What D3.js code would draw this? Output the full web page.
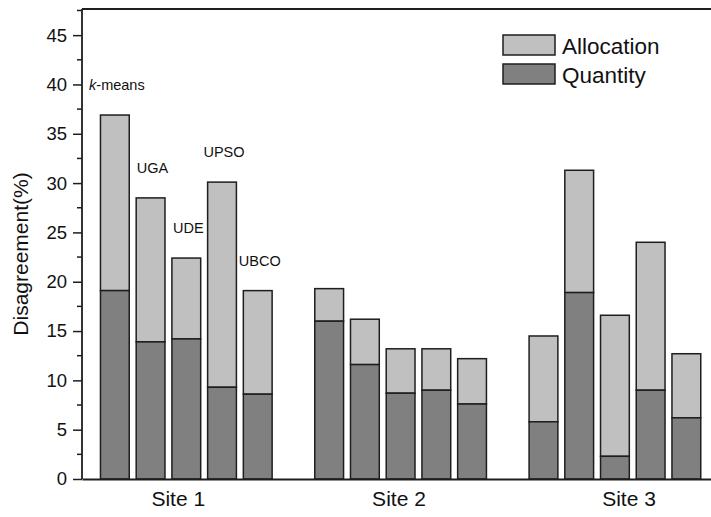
<!DOCTYPE html>
<html lang="en">
<head>
    <meta charset="UTF-8">
    <script src="https://d3js.org/d3.v7.min.js"></script>
    <title>Disagreement by site</title>
    <style>
        body { margin: 0; background: #fff; }
        svg text { font-family: "Liberation Sans", Arial, sans-serif; fill: #111; }
    </style>
</head>
<body>
    <div id="chart"></div>
    <script>
        // ---------- data ----------
        const sites = ["Site 1", "Site 2", "Site 3"];
        const methods = ["k-means", "UGA", "UDE", "UPSO", "UBCO"];
        // quantity disagreement (%) per site, one value per method
        const quantity = [
            [19.1, 13.9, 14.2, 9.3, 8.6],
            [16.0, 11.6, 8.7, 9.0, 7.6],
            [5.8, 18.9, 2.3, 9.0, 6.2]
        ];
        // allocation disagreement (%) stacked on top
        const allocation = [
            [17.8, 14.6, 8.2, 20.8, 10.5],
            [3.3, 4.6, 4.5, 4.2, 4.6],
            [8.7, 12.4, 14.3, 15.0, 6.5]
        ];
        const yTicks = [0, 5, 10, 15, 20, 25, 30, 35, 40, 45];
        const siteTicks = [1.76, 7.94, 14.38]; // where Site labels sit, in bar slots

        // ---------- layout ----------
        const width = 711, height = 517;
        const margin = { left: 82, right: 0, top: 9, bottom: 38 };

        const svg = d3.select("#chart").append("svg")
            .attr("width", width)
            .attr("height", height);

        const x = d3.scaleLinear()
            .domain([-0.92, 16.69])
            .range([margin.left, width - margin.right]);

        const y = d3.scaleLinear()
            .domain([0, 47.65])
            .range([height - margin.bottom, margin.top]);

        const barW = (x(1) - x(0)) * 0.806;
        const colAlloc = "#c0c0c0", colQuant = "#808080", stroke = "#1e1e1e";

        // flatten into bar records
        const bars = [];
        sites.forEach((s, g) => {
            methods.forEach((m, i) => {
                bars.push({ site: s, method: m, slot: g * 6 + i, q: quantity[g][i], a: allocation[g][i] });
            });
        });

        // allocation (top part)
        svg.append("g").selectAll("rect")
            .data(bars)
            .enter()
            .append("rect")
            .attr("x", d => x(d.slot) - barW / 2)
            .attr("width", barW)
            .attr("y", d => y(d.q + d.a))
            .attr("height", d => y(d.q) - y(d.q + d.a))
            .attr("fill", colAlloc)
            .attr("stroke", stroke)
            .attr("stroke-width", 1.5);

        // quantity (bottom part)
        svg.append("g").selectAll("rect")
            .data(bars)
            .enter()
            .append("rect")
            .attr("x", d => x(d.slot) - barW / 2)
            .attr("width", barW)
            .attr("y", d => y(d.q))
            .attr("height", d => y(0) - y(d.q))
            .attr("fill", colQuant)
            .attr("stroke", stroke)
            .attr("stroke-width", 1.5);

        // method names above the Site 1 bars
        const labels = svg.append("g").selectAll("text")
            .data(bars.filter(d => d.site === sites[0]))
            .enter()
            .append("text")
            .attr("x", d => x(d.slot) + 2)
            .attr("y", d => y(d.q + d.a) - 25)
            .attr("text-anchor", "middle")
            .style("font-size", "14.5px");
        labels.each(function (d) {
            const t = d3.select(this);
            if (d.method.startsWith("k-")) {
                t.append("tspan").style("font-style", "italic").text("k");
                t.append("tspan").text(d.method.slice(1));
            } else {
                t.text(d.method);
            }
        });

        // y axis (major + minor ticks)
        const yAxis = svg.append("g")
            .attr("transform", `translate(${margin.left},0)`)
            .call(d3.axisLeft(y).tickValues(yTicks).tickSize(9).tickPadding(6));
        yAxis.select(".domain").remove();
        yAxis.selectAll("line").attr("stroke", stroke).attr("stroke-width", 1.5);
        yAxis.selectAll("text").style("font-size", "18.5px").attr("fill", "#111");

        const minor = d3.range(2.5, 48, 5);
        svg.append("g").selectAll("line")
            .data(minor)
            .enter()
            .append("line")
            .attr("x1", margin.left - 5)
            .attr("x2", margin.left)
            .attr("y1", d => y(d))
            .attr("y2", d => y(d))
            .attr("stroke", stroke)
            .attr("stroke-width", 1.5);

        // frame lines (left, top, bottom)
        svg.append("line")
            .attr("x1", margin.left).attr("x2", margin.left)
            .attr("y1", y.range()[0]).attr("y2", y.range()[1])
            .attr("stroke", stroke).attr("stroke-width", 1.8);
        svg.append("line")
            .attr("x1", margin.left).attr("x2", width)
            .attr("y1", y.range()[1]).attr("y2", y.range()[1])
            .attr("stroke", stroke).attr("stroke-width", 1.8);

        // x axis with site names
        const xAxis = svg.append("g")
            .attr("transform", `translate(0,${y(0)})`)
            .call(d3.axisBottom(x).tickValues(siteTicks).tickSize(0).tickPadding(12)
                .tickFormat((d, i) => sites[i]));
        xAxis.select(".domain").attr("stroke", stroke).attr("stroke-width", 1.8);
        xAxis.selectAll("text").style("font-size", "21px").attr("fill", "#111");

        // y label
        svg.append("text")
            .attr("transform", `translate(28,${(y.range()[0] + y.range()[1]) / 2 + 10}) rotate(-90)`)
            .attr("text-anchor", "middle")
            .style("font-size", "21px")
            .text("Disagreement(%)");

        // legend
        const legend = svg.append("g");
        const legendItems = [
            { name: "Allocation", color: colAlloc },
            { name: "Quantity", color: colQuant }
        ];
        legendItems.forEach((d, i) => {
            const row = legend.append("g").attr("transform", `translate(503,${35 + i * 29})`);
            row.append("rect")
                .attr("width", 52).attr("height", 20)
                .attr("fill", d.color)
                .attr("stroke", stroke)
                .attr("stroke-width", 1.5);
            row.append("text")
                .attr("x", 59).attr("y", 18.5)
                .style("font-size", "22.5px")
                .text(d.name);
        });
    </script>
</body>
</html>
